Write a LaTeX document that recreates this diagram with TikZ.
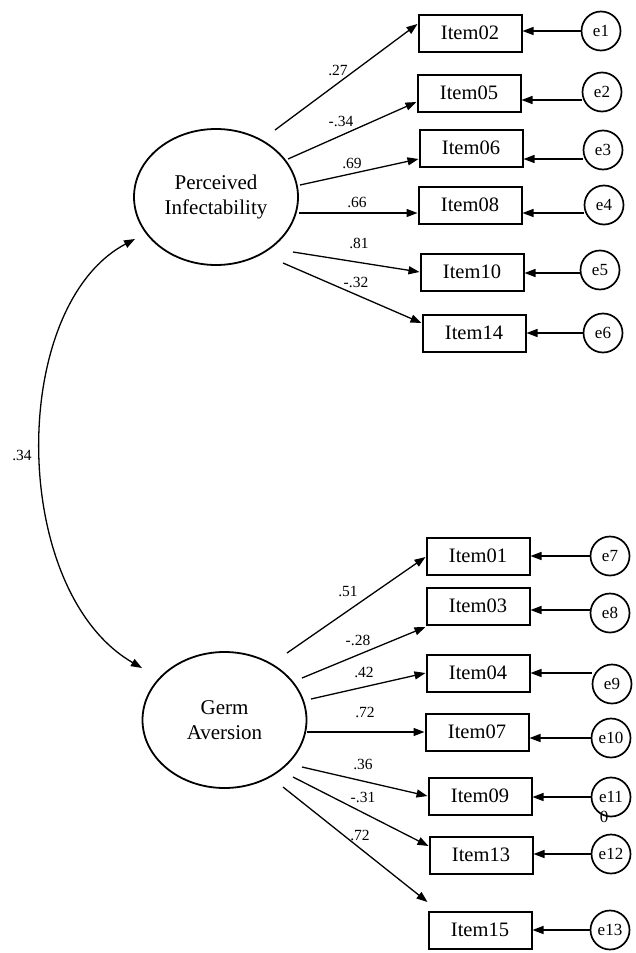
\documentclass[tikz,border=0pt]{standalone}
\usepackage{fontspec}
\setmainfont{Liberation Serif}
\usetikzlibrary{arrows.meta,calc,shapes.geometric}
\begin{document}
\begin{tikzpicture}[x=1pt,y=1pt,
  lat/.style={draw,ellipse,line width=1.8pt,minimum width=164pt,minimum height=136pt,inner sep=0pt,align=center,font=\fontsize{21}{25}\selectfont},
  itembox/.style={draw,rectangle,line width=2pt,minimum width=103pt,minimum height=37pt,inner sep=0pt,font=\fontsize{20.5}{24}\selectfont},
  errc/.style={draw,circle,line width=1.7pt,minimum size=39pt,inner sep=0pt,font=\fontsize{17}{20}\selectfont},
  arr/.style={line width=1.3pt,-{Triangle[length=11pt,width=8pt]}},
  lbl/.style={inner sep=0pt,font=\fontsize{15.5}{18}\selectfont}]
\path[use as bounding box] (0,0) rectangle (636,-953);
% latent variables
\node[lat] (pi) at (216,-197) {Perceived\\Infectability};
\node[lat] (ga) at (224.5,-720) {Germ\\Aversion};
% items top
\node[itembox] (i02) at (470,-33) {Item02};
\node[itembox] (i05) at (469,-93) {Item05};
\node[itembox] (i06) at (471,-148) {Item06};
\node[itembox] (i08) at (470,-205) {Item08};
\node[itembox] (i10) at (472,-272) {Item10};
\node[itembox] (i14) at (474,-333) {Item14};
% items bottom
\node[itembox] (i01) at (478,-556) {Item01};
\node[itembox] (i03) at (478,-606) {Item03};
\node[itembox] (i04) at (478,-673) {Item04};
\node[itembox] (i07) at (477,-732) {Item07};
\node[itembox] (i09) at (480,-796) {Item09};
\node[itembox] (i13) at (481,-855) {Item13};
\node[itembox] (i15) at (480,-930) {Item15};
% errors
\node[errc] (e1) at (601,-31) {e1};
\node[errc] (e2) at (602,-92) {e2};
\node[errc] (e3) at (603,-150) {e3};
\node[errc] (e4) at (604,-205) {e4};
\node[errc] (e5) at (600,-270) {e5};
\node[errc] (e6) at (603,-333) {e6};
\node[errc] (e7) at (610,-556) {e7};
\node[errc] (e8) at (610,-613) {e8};
\node[errc] (e9) at (612,-684) {e9};
\node[errc] (e10) at (611,-738) {e10};
\node[errc] (e11) at (611,-797) {e11};
\node[errc] (e12) at (611,-854) {e12};
\node[errc] (e13) at (610,-930) {e13};
\node[inner sep=0pt,font=\fontsize{17}{20}\selectfont] (zero) at (604,-817) {0};
% error arrows
\foreach \e/\i/\d in {e1/i02/0,e2/i05/-8,e3/i06/-9,e4/i08/-8,e5/i10/-3,e6/i14/0,
  e7/i01/0,e8/i03/3,e9/i04/11,e10/i07/0,e11/i09/0,e12/i13/0,e13/i15/0}{
  \coordinate (s\e) at ($(\e.west)+(0,\d)$);
  \draw[arr] (s\e) -- (s\e -| \i.east);
}
% loadings top
\foreach \i/\sx/\sy/\ey in {i02/59/67/9,i05/72/38/-9,i06/84/12/-11,i08/83/-16/-8,i10/77/-55/0,i14/67/-66/10}{
  \draw[arr] ($(pi.center)+(\sx,\sy)$) -- ($(\i.west)+(0,\ey)$);
}
% loadings bottom
\foreach \i/\sx/\sy/\ey in {i01/62.5/67/-1,i03/77.5/42/-21,i04/86.5/21/0,i07/82.5/-12/0,i09/77.5/-47/0,i13/68.5/-57/9,i15/58.5/-67/28}{
  \draw[arr] ($(ga.center)+(\sx,\sy)$) -- ($(\i.west)+(0,\ey)$);
}
% loading labels
\node[lbl] (l02) at (338,-70) {.27};
\node[lbl] (l05) at (341,-121) {-.34};
\node[lbl] (l06) at (352,-163) {.69};
\node[lbl] (l08) at (357,-202) {.66};
\node[lbl] (l10) at (359,-243) {.81};
\node[lbl] (l14) at (356,-282) {-.32};
\node[lbl] (l01) at (348,-591) {.51};
\node[lbl] (l03) at (358,-640) {-.28};
\node[lbl] (l04) at (364,-672) {.42};
\node[lbl] (l07) at (365,-712) {.72};
\node[lbl] (l09) at (363,-764) {.36};
\node[lbl] (l13) at (363,-797) {-.31};
\node[lbl] (l15) at (360,-835) {.72};
% covariance
\coordinate (cb) at ($(ga.center)+(-82.5,52)$);
\coordinate (ct) at ($(pi.center)+(-81,-42)$);
\draw[line width=1.3pt,{Triangle[length=11pt,width=8pt]}-{Triangle[length=11pt,width=8pt]}]
  (cb) .. controls +(-133,77) and +(-127,-67.5) .. (ct);
\node[lbl] (lcov) at (22,-455) {.34};
\end{tikzpicture}
\end{document}
